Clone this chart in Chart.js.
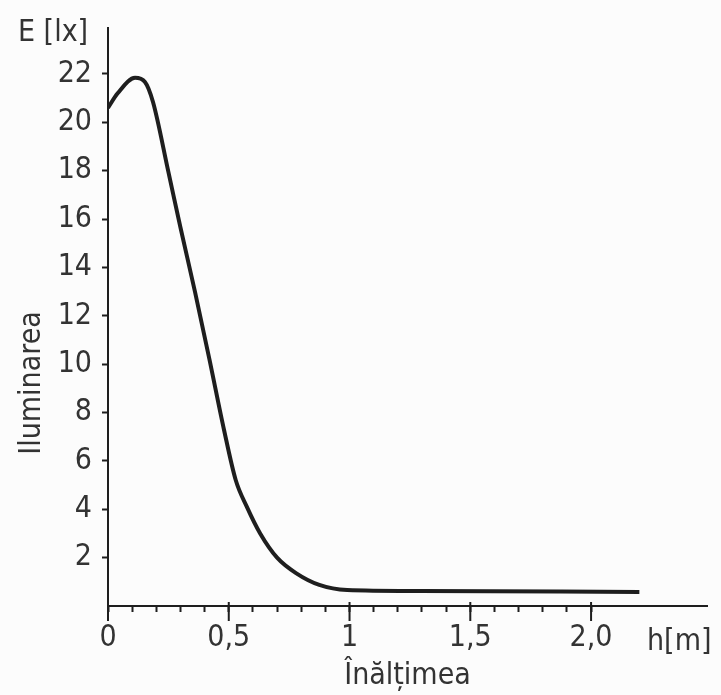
<!DOCTYPE html>
<html>
<head>
<meta charset="utf-8">
<script src="https://cdn.jsdelivr.net/npm/chart.js@4.4.0/dist/chart.umd.min.js"></script>
<style>
  html, body { margin: 0; padding: 0; background: #fcfcfc; }
  #wrap { width: 721px; height: 695px; }
</style>
</head>
<body>
<div id="wrap"><canvas id="c"></canvas></div>
<script>
// iluminarea E [lx] functie de inaltimea h [m]
const heights = [0, 0.04, 0.112, 0.153, 0.186, 0.25, 0.30, 0.36, 0.42, 0.48, 0.529, 0.575, 0.63, 0.70, 0.78, 0.875, 0.99, 1.29, 2.2];
const illuminance = [20.6, 21.2, 21.84, 21.67, 20.85, 17.95, 15.65, 13.0, 10.2, 7.3, 5.2, 4.1, 3.0, 2.0, 1.35, 0.87, 0.66, 0.62, 0.58];
const xTickValues = [0, 0.5, 1, 1.5, 2];
const xTickLabels = ['0', '0,5', '1', '1,5', '2,0'];
const yTickValues = [2, 4, 6, 8, 10, 12, 14, 16, 18, 20, 22];

const INK = '#1e1e1e';
const TEXT = '#333333';
const FAMILY = '"DejaVu Sans Condensed", "Liberation Sans Narrow", "DejaVu Sans", sans-serif';
const near = (a, b) => Math.abs(a - b) < 1e-6;

// extra marks: long ticks at 0,5 steps + free labels (E [lx], h[m], Iluminarea)
const inkPlugin = {
    id: 'ink',
    afterDraw(chart) {
        const { ctx, chartArea, scales: { x } } = chart;
        ctx.save();
        ctx.strokeStyle = INK;
        ctx.lineWidth = 2;
        xTickValues.forEach(v => {
            const px = x.getPixelForValue(v);
            ctx.beginPath();
            ctx.moveTo(px, chartArea.bottom - 4);
            ctx.lineTo(px, chartArea.bottom + 15);
            ctx.stroke();
        });
        ctx.fillStyle = TEXT;
        ctx.font = '30px ' + FAMILY;
        ctx.textBaseline = 'middle';
        ctx.fillText('E [lx]', 18, 33);
        ctx.fillText('h[m]', 647, 642);
        ctx.translate(32, 383);
        ctx.rotate(-Math.PI / 2);
        ctx.textAlign = 'center';
        ctx.fillText('Iluminarea', 0, 0);
        ctx.restore();
    }
};

new Chart(document.getElementById('c'), {
    type: 'line',
    data: {
        datasets: [{
            data: heights.map((h, i) => ({ x: h, y: illuminance[i] })),
            borderColor: INK,
            borderWidth: 4,
            pointRadius: 0,
            fill: false,
            cubicInterpolationMode: 'monotone'
        }]
    },
    options: {
        responsive: true,
        maintainAspectRatio: false,
        animation: false,
        layout: { padding: { left: 12, right: 14, top: 25, bottom: 0 } },
        plugins: { legend: { display: false }, tooltip: { enabled: false } },
        scales: {
            x: {
                type: 'linear',
                min: 0,
                max: 2.48,
                border: { color: INK, width: 2 },
                grid: {
                    drawOnChartArea: false,
                    tickLength: 6,
                    tickWidth: 2,
                    tickColor: c => (c.tick && c.tick.value > 2.001) ? 'rgba(0,0,0,0)' : INK
                },
                ticks: {
                    stepSize: 0.1,
                    includeBounds: false,
                    autoSkip: false,
                    maxRotation: 0,
                    padding: 8,
                    color: TEXT,
                    font: { family: FAMILY, size: 30 },
                    callback: v => {
                        const i = xTickValues.findIndex(t => near(t, v));
                        return i >= 0 ? xTickLabels[i] : '';
                    }
                },
                title: {
                    display: true,
                    text: 'Înălțimea',
                    color: TEXT,
                    font: { family: FAMILY, size: 30 },
                    padding: { top: 0, bottom: 1 }
                },
                afterFit: s => { s.height = 89; }
            },
            y: {
                min: 0,
                max: 23.9,
                border: { color: INK, width: 2 },
                grid: {
                    drawOnChartArea: false,
                    tickLength: 6,
                    tickWidth: 2,
                    tickColor: c => (c.tick && yTickValues.includes(c.tick.value)) ? INK : 'rgba(0,0,0,0)'
                },
                ticks: {
                    stepSize: 2,
                    includeBounds: false,
                    padding: 10,
                    color: TEXT,
                    font: { family: FAMILY, size: 30 },
                    callback: v => yTickValues.includes(v) ? String(v) : ''
                },
                afterFit: s => { s.width = 96; }
            }
        }
    },
    plugins: [inkPlugin]
});
</script>
</body>
</html>
